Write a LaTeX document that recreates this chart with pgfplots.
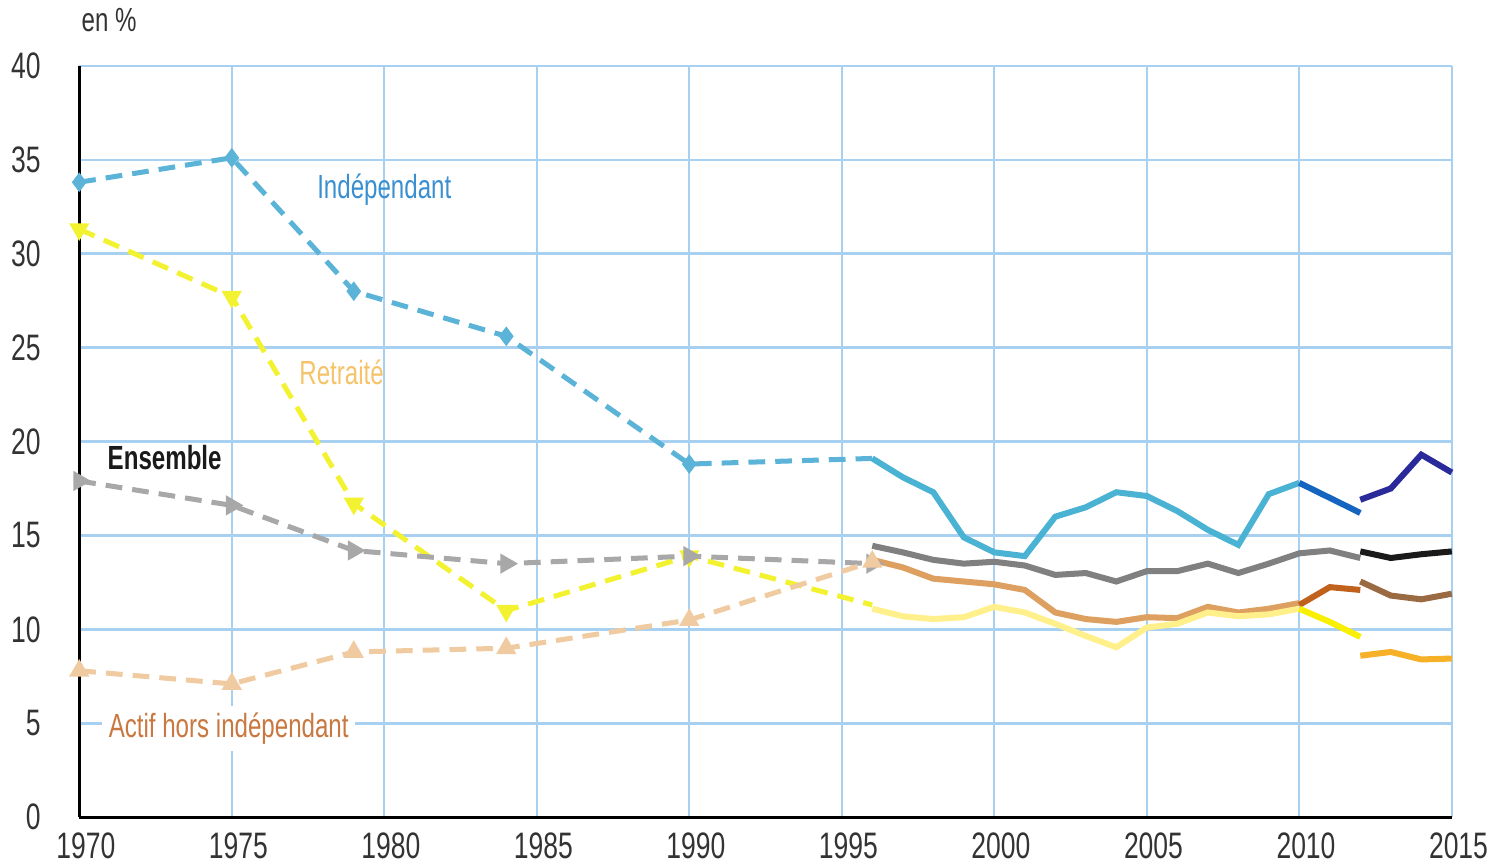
\documentclass[border=0pt]{standalone}
\usepackage{pgfplots}
\pgfplotsset{compat=1.18}
\usepackage{fontspec}
\setmainfont{Liberation Sans}[FakeStretch=0.72]
\definecolor{gridc}{HTML}{A8D0F0}
\definecolor{indD}{HTML}{5BB4D8}
\definecolor{indS}{HTML}{4AB3D4}
\definecolor{indB}{HTML}{1565C0}
\definecolor{indN}{HTML}{2A2A9A}
\definecolor{ensD}{HTML}{A8A8A8}
\definecolor{ensS}{HTML}{808080}
\definecolor{ensN}{HTML}{1A1A1A}
\definecolor{actD}{HTML}{F0CAA0}
\definecolor{actS}{HTML}{DDA060}
\definecolor{actB}{HTML}{C0621E}
\definecolor{actN}{HTML}{9A6A42}
\definecolor{retD}{HTML}{F2F230}
\definecolor{retS}{HTML}{FFF08C}
\definecolor{retB}{HTML}{F8F000}
\definecolor{retN}{HTML}{F6B128}
\definecolor{txt}{HTML}{333333}
\definecolor{indT}{HTML}{3A8FD0}
\definecolor{retT}{HTML}{F5C36A}
\definecolor{actT}{HTML}{C87840}
\begin{document}
\begin{tikzpicture}
\begin{axis}[
  scale only axis, width=410pt, height=224.5pt,
  xmin=1970, xmax=2015, ymin=0, ymax=40,
  xtick={1970,1975,...,2015}, ytick={0,5,...,40},
  axis x line*=bottom, axis y line*=left,
  axis line style={black, line width=0.8pt, -},
  grid=major, grid style={gridc, line width=0.7pt},
  major tick length=0pt,
  /pgf/number format/assume math mode=true,
  /pgf/number format/1000 sep={},
  tick label style={font=\fontsize{11}{13}\selectfont, text=txt},
  yticklabel style={xshift=-8pt},
  xticklabel style={inner sep=0pt, anchor=north, yshift=-4.5pt, xshift=2pt},
  clip=false,
]
% dashed historical series
\addplot[indD, line width=1.5pt, dash pattern=on 5pt off 3pt, mark=diamond*, mark size=1.7pt, mark options={solid}, mark indices={1,2,3,4,5}]
  coordinates {(1970,33.8) (1975,35.1) (1979,28.0) (1984,25.6) (1990,18.8) (1996,19.1)};
\addplot[retD, line width=1.5pt, dash pattern=on 5pt off 3pt, mark=triangle*, mark size=2pt, mark options={solid, rotate=180}, mark indices={1,2,3,4,5}]
  coordinates {(1970,31.3) (1975,27.7) (1979,16.7) (1984,11.0) (1990,13.9) (1996,11.3)};
\addplot[ensD, line width=1.5pt, dash pattern=on 5pt off 3pt, mark=triangle*, mark size=2pt, mark options={solid, rotate=-90}]
  coordinates {(1970,17.9) (1975,16.6) (1979,14.2) (1984,13.5) (1990,13.9) (1996,13.5)};
\addplot[actD, line width=1.5pt, dash pattern=on 5pt off 3pt, mark=triangle*, mark size=2pt, mark options={solid}]
  coordinates {(1970,7.8) (1975,7.1) (1979,8.8) (1984,9.0) (1990,10.5) (1996,13.6)};
% solid series 1996-2010
\addplot[indS, line width=1.8pt, no marks] coordinates {
 (1996,19.1) (1997,18.1) (1998,17.3) (1999,14.9) (2000,14.1) (2001,13.9) (2002,16.0) (2003,16.5)
 (2004,17.3) (2005,17.1) (2006,16.3) (2007,15.3) (2008,14.5) (2009,17.2) (2010,17.8)};
\addplot[ensS, line width=1.8pt, no marks] coordinates {
 (1996,14.45) (1997,14.1) (1998,13.7) (1999,13.5) (2000,13.6) (2001,13.4) (2002,12.9) (2003,13.0)
 (2004,12.55) (2005,13.1) (2006,13.1) (2007,13.5) (2008,13.0) (2009,13.5) (2010,14.05) (2011,14.2) (2012,13.8)};
\addplot[actS, line width=1.8pt, no marks] coordinates {
 (1996,13.7) (1997,13.3) (1998,12.7) (1999,12.55) (2000,12.4) (2001,12.1) (2002,10.9) (2003,10.55)
 (2004,10.4) (2005,10.65) (2006,10.6) (2007,11.2) (2008,10.9) (2009,11.1) (2010,11.4)};
\addplot[retS, line width=1.8pt, no marks] coordinates {
 (1996,11.1) (1997,10.7) (1998,10.55) (1999,10.65) (2000,11.2) (2001,10.9) (2002,10.3) (2003,9.65)
 (2004,9.05) (2005,10.1) (2006,10.3) (2007,10.9) (2008,10.7) (2009,10.8) (2010,11.1)};
% 2010-2012
\addplot[indB, line width=1.8pt, no marks] coordinates {(2010,17.8) (2011,17.0) (2012,16.2)};
\addplot[actB, line width=1.8pt, no marks] coordinates {(2010,11.3) (2011,12.25) (2012,12.1)};
\addplot[retB, line width=1.8pt, no marks] coordinates {(2010,11.1) (2011,10.4) (2012,9.6)};
% 2012-2015
\addplot[indN, line width=1.8pt, no marks] coordinates {(2012,16.9) (2013,17.5) (2014,19.3) (2015,18.35)};
\addplot[ensN, line width=1.8pt, no marks] coordinates {(2012,14.15) (2013,13.8) (2014,14.0) (2015,14.15)};
\addplot[actN, line width=1.8pt, no marks] coordinates {(2012,12.55) (2013,11.8) (2014,11.6) (2015,11.9)};
\addplot[retN, line width=1.8pt, no marks] coordinates {(2012,8.6) (2013,8.8) (2014,8.4) (2015,8.45)};
% labels
\node[text=indT, font=\fontsize{10}{12}\selectfont] at (axis cs:1980.0,33.4) {Indépendant};
\node[text=retT, font=\fontsize{10}{12}\selectfont] at (axis cs:1978.6,23.7) {Retraité};
\node[text=ensN, font=\fontsize{10}{12}\selectfont\bfseries] at (axis cs:1972.8,19.15) {Ensemble};
\node[text=actT, fill=white, inner sep=2pt, font=\fontsize{10}{12}\selectfont] at (axis cs:1974.9,4.7) {Actif hors indépendant};
\node[text=txt, anchor=south west, inner sep=0pt, font=\fontsize{10}{12}\selectfont] at (rel axis cs:0,1) [yshift=10pt, xshift=0.5pt] {en \%};
\end{axis}
\path (current bounding box.north) ++(0,2.4pt);
\path (current bounding box.south) ++(0,-1.5pt);
\path (current bounding box.east) ++(1.8pt,0);
\end{tikzpicture}
\end{document}
